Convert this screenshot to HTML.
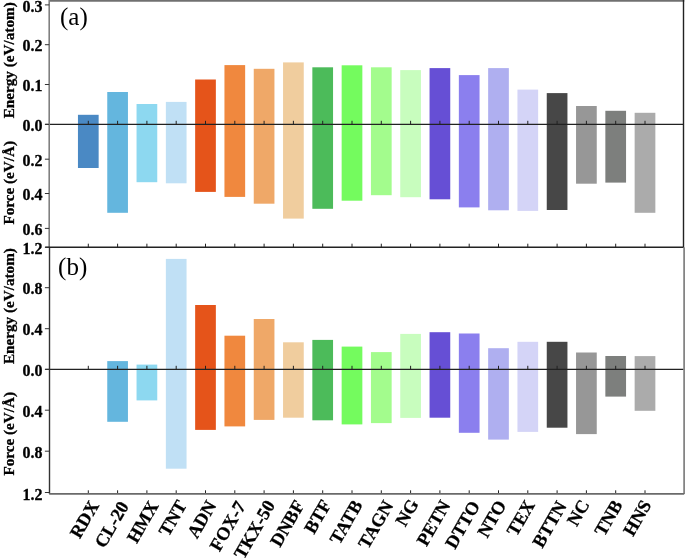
<!DOCTYPE html>
<html><head><meta charset="utf-8"><title>Energy and force chart</title>
<style>
html,body{margin:0;padding:0;background:#fff;}
body{width:685px;height:558px;overflow:hidden;}
svg{display:block;filter:blur(0.35px);}
.tl{font-family:"Liberation Serif",serif;font-weight:bold;font-size:16px;fill:#000;stroke:#000;stroke-width:0.3px;}
.ax{font-family:"Liberation Serif",serif;font-weight:bold;font-size:15.2px;fill:#000;stroke:#000;stroke-width:0.3px;}
.pl{font-family:"Liberation Serif",serif;font-size:25px;fill:#000;}
.xl{font-family:"Liberation Serif",serif;font-weight:bold;font-size:18.3px;fill:#000;stroke:#000;stroke-width:0.3px;}
</style></head>
<body>
<svg width="685" height="558" viewBox="0 0 685 558">
<rect x="0" y="0" width="685" height="558" fill="#ffffff"/>
<rect x="77.95" y="114.80" width="20.7" height="53.20" fill="#4a89c4"/>
<rect x="107.25" y="92.00" width="20.7" height="120.80" fill="#64b6de"/>
<rect x="107.25" y="361.10" width="20.7" height="60.70" fill="#64b6de"/>
<rect x="136.55" y="104.00" width="20.7" height="78.20" fill="#8dd8f0"/>
<rect x="136.55" y="364.60" width="20.7" height="35.80" fill="#8dd8f0"/>
<rect x="165.85" y="101.90" width="20.7" height="81.40" fill="#c0e0f5"/>
<rect x="165.85" y="258.90" width="20.7" height="209.80" fill="#c0e0f5"/>
<rect x="195.15" y="79.50" width="20.7" height="112.40" fill="#e5541a"/>
<rect x="195.15" y="305.00" width="20.7" height="124.90" fill="#e5541a"/>
<rect x="224.45" y="65.10" width="20.7" height="131.80" fill="#f0883e"/>
<rect x="224.45" y="335.70" width="20.7" height="90.70" fill="#f0883e"/>
<rect x="253.75" y="68.80" width="20.7" height="134.90" fill="#efa868"/>
<rect x="253.75" y="319.00" width="20.7" height="100.90" fill="#efa868"/>
<rect x="283.05" y="62.40" width="20.7" height="156.20" fill="#f0cd9e"/>
<rect x="283.05" y="342.30" width="20.7" height="75.40" fill="#f0cd9e"/>
<rect x="312.35" y="67.30" width="20.7" height="141.50" fill="#4cbb5a"/>
<rect x="312.35" y="339.90" width="20.7" height="80.40" fill="#4cbb5a"/>
<rect x="341.65" y="65.30" width="20.7" height="135.40" fill="#74fb5e"/>
<rect x="341.65" y="346.60" width="20.7" height="77.80" fill="#74fb5e"/>
<rect x="370.95" y="67.30" width="20.7" height="127.90" fill="#a3fc8d"/>
<rect x="370.95" y="352.10" width="20.7" height="71.00" fill="#a3fc8d"/>
<rect x="400.25" y="70.10" width="20.7" height="127.10" fill="#c8fdbe"/>
<rect x="400.25" y="333.90" width="20.7" height="84.00" fill="#c8fdbe"/>
<rect x="429.55" y="68.10" width="20.7" height="131.20" fill="#664fd5"/>
<rect x="429.55" y="332.20" width="20.7" height="85.50" fill="#664fd5"/>
<rect x="458.85" y="75.10" width="20.7" height="132.30" fill="#8b7fee"/>
<rect x="458.85" y="333.50" width="20.7" height="99.30" fill="#8b7fee"/>
<rect x="488.15" y="68.10" width="20.7" height="142.20" fill="#afaff0"/>
<rect x="488.15" y="348.20" width="20.7" height="91.40" fill="#afaff0"/>
<rect x="517.45" y="89.60" width="20.7" height="121.30" fill="#d4d4f7"/>
<rect x="517.45" y="341.80" width="20.7" height="90.10" fill="#d4d4f7"/>
<rect x="546.75" y="93.10" width="20.7" height="116.90" fill="#474747"/>
<rect x="546.75" y="341.80" width="20.7" height="85.90" fill="#474747"/>
<rect x="576.05" y="106.00" width="20.7" height="77.70" fill="#979797"/>
<rect x="576.05" y="352.50" width="20.7" height="81.60" fill="#979797"/>
<rect x="605.35" y="110.80" width="20.7" height="71.80" fill="#7d7f7d"/>
<rect x="605.35" y="356.00" width="20.7" height="40.60" fill="#7d7f7d"/>
<rect x="634.65" y="112.80" width="20.7" height="100.00" fill="#ababab"/>
<rect x="634.65" y="356.10" width="20.7" height="54.70" fill="#ababab"/>
<line x1="45.2" y1="124.4" x2="683.5" y2="124.4" stroke="#222" stroke-width="1.4"/>
<line x1="45.2" y1="369.4" x2="683.5" y2="369.4" stroke="#222" stroke-width="1.4"/>
<line x1="88.30" y1="124.4" x2="88.30" y2="120.80" stroke="#222" stroke-width="1"/>
<line x1="88.30" y1="369.4" x2="88.30" y2="365.80" stroke="#222" stroke-width="1"/>
<line x1="88.30" y1="247.3" x2="88.30" y2="243.70" stroke="#222" stroke-width="1"/>
<line x1="88.30" y1="493.9" x2="88.30" y2="490.30" stroke="#222" stroke-width="1"/>
<line x1="117.60" y1="124.4" x2="117.60" y2="120.80" stroke="#222" stroke-width="1"/>
<line x1="117.60" y1="369.4" x2="117.60" y2="365.80" stroke="#222" stroke-width="1"/>
<line x1="117.60" y1="247.3" x2="117.60" y2="243.70" stroke="#222" stroke-width="1"/>
<line x1="117.60" y1="493.9" x2="117.60" y2="490.30" stroke="#222" stroke-width="1"/>
<line x1="146.90" y1="124.4" x2="146.90" y2="120.80" stroke="#222" stroke-width="1"/>
<line x1="146.90" y1="369.4" x2="146.90" y2="365.80" stroke="#222" stroke-width="1"/>
<line x1="146.90" y1="247.3" x2="146.90" y2="243.70" stroke="#222" stroke-width="1"/>
<line x1="146.90" y1="493.9" x2="146.90" y2="490.30" stroke="#222" stroke-width="1"/>
<line x1="176.20" y1="124.4" x2="176.20" y2="120.80" stroke="#222" stroke-width="1"/>
<line x1="176.20" y1="369.4" x2="176.20" y2="365.80" stroke="#222" stroke-width="1"/>
<line x1="176.20" y1="247.3" x2="176.20" y2="243.70" stroke="#222" stroke-width="1"/>
<line x1="176.20" y1="493.9" x2="176.20" y2="490.30" stroke="#222" stroke-width="1"/>
<line x1="205.50" y1="124.4" x2="205.50" y2="120.80" stroke="#222" stroke-width="1"/>
<line x1="205.50" y1="369.4" x2="205.50" y2="365.80" stroke="#222" stroke-width="1"/>
<line x1="205.50" y1="247.3" x2="205.50" y2="243.70" stroke="#222" stroke-width="1"/>
<line x1="205.50" y1="493.9" x2="205.50" y2="490.30" stroke="#222" stroke-width="1"/>
<line x1="234.80" y1="124.4" x2="234.80" y2="120.80" stroke="#222" stroke-width="1"/>
<line x1="234.80" y1="369.4" x2="234.80" y2="365.80" stroke="#222" stroke-width="1"/>
<line x1="234.80" y1="247.3" x2="234.80" y2="243.70" stroke="#222" stroke-width="1"/>
<line x1="234.80" y1="493.9" x2="234.80" y2="490.30" stroke="#222" stroke-width="1"/>
<line x1="264.10" y1="124.4" x2="264.10" y2="120.80" stroke="#222" stroke-width="1"/>
<line x1="264.10" y1="369.4" x2="264.10" y2="365.80" stroke="#222" stroke-width="1"/>
<line x1="264.10" y1="247.3" x2="264.10" y2="243.70" stroke="#222" stroke-width="1"/>
<line x1="264.10" y1="493.9" x2="264.10" y2="490.30" stroke="#222" stroke-width="1"/>
<line x1="293.40" y1="124.4" x2="293.40" y2="120.80" stroke="#222" stroke-width="1"/>
<line x1="293.40" y1="369.4" x2="293.40" y2="365.80" stroke="#222" stroke-width="1"/>
<line x1="293.40" y1="247.3" x2="293.40" y2="243.70" stroke="#222" stroke-width="1"/>
<line x1="293.40" y1="493.9" x2="293.40" y2="490.30" stroke="#222" stroke-width="1"/>
<line x1="322.70" y1="124.4" x2="322.70" y2="120.80" stroke="#222" stroke-width="1"/>
<line x1="322.70" y1="369.4" x2="322.70" y2="365.80" stroke="#222" stroke-width="1"/>
<line x1="322.70" y1="247.3" x2="322.70" y2="243.70" stroke="#222" stroke-width="1"/>
<line x1="322.70" y1="493.9" x2="322.70" y2="490.30" stroke="#222" stroke-width="1"/>
<line x1="352.00" y1="124.4" x2="352.00" y2="120.80" stroke="#222" stroke-width="1"/>
<line x1="352.00" y1="369.4" x2="352.00" y2="365.80" stroke="#222" stroke-width="1"/>
<line x1="352.00" y1="247.3" x2="352.00" y2="243.70" stroke="#222" stroke-width="1"/>
<line x1="352.00" y1="493.9" x2="352.00" y2="490.30" stroke="#222" stroke-width="1"/>
<line x1="381.30" y1="124.4" x2="381.30" y2="120.80" stroke="#222" stroke-width="1"/>
<line x1="381.30" y1="369.4" x2="381.30" y2="365.80" stroke="#222" stroke-width="1"/>
<line x1="381.30" y1="247.3" x2="381.30" y2="243.70" stroke="#222" stroke-width="1"/>
<line x1="381.30" y1="493.9" x2="381.30" y2="490.30" stroke="#222" stroke-width="1"/>
<line x1="410.60" y1="124.4" x2="410.60" y2="120.80" stroke="#222" stroke-width="1"/>
<line x1="410.60" y1="369.4" x2="410.60" y2="365.80" stroke="#222" stroke-width="1"/>
<line x1="410.60" y1="247.3" x2="410.60" y2="243.70" stroke="#222" stroke-width="1"/>
<line x1="410.60" y1="493.9" x2="410.60" y2="490.30" stroke="#222" stroke-width="1"/>
<line x1="439.90" y1="124.4" x2="439.90" y2="120.80" stroke="#222" stroke-width="1"/>
<line x1="439.90" y1="369.4" x2="439.90" y2="365.80" stroke="#222" stroke-width="1"/>
<line x1="439.90" y1="247.3" x2="439.90" y2="243.70" stroke="#222" stroke-width="1"/>
<line x1="439.90" y1="493.9" x2="439.90" y2="490.30" stroke="#222" stroke-width="1"/>
<line x1="469.20" y1="124.4" x2="469.20" y2="120.80" stroke="#222" stroke-width="1"/>
<line x1="469.20" y1="369.4" x2="469.20" y2="365.80" stroke="#222" stroke-width="1"/>
<line x1="469.20" y1="247.3" x2="469.20" y2="243.70" stroke="#222" stroke-width="1"/>
<line x1="469.20" y1="493.9" x2="469.20" y2="490.30" stroke="#222" stroke-width="1"/>
<line x1="498.50" y1="124.4" x2="498.50" y2="120.80" stroke="#222" stroke-width="1"/>
<line x1="498.50" y1="369.4" x2="498.50" y2="365.80" stroke="#222" stroke-width="1"/>
<line x1="498.50" y1="247.3" x2="498.50" y2="243.70" stroke="#222" stroke-width="1"/>
<line x1="498.50" y1="493.9" x2="498.50" y2="490.30" stroke="#222" stroke-width="1"/>
<line x1="527.80" y1="124.4" x2="527.80" y2="120.80" stroke="#222" stroke-width="1"/>
<line x1="527.80" y1="369.4" x2="527.80" y2="365.80" stroke="#222" stroke-width="1"/>
<line x1="527.80" y1="247.3" x2="527.80" y2="243.70" stroke="#222" stroke-width="1"/>
<line x1="527.80" y1="493.9" x2="527.80" y2="490.30" stroke="#222" stroke-width="1"/>
<line x1="557.10" y1="124.4" x2="557.10" y2="120.80" stroke="#222" stroke-width="1"/>
<line x1="557.10" y1="369.4" x2="557.10" y2="365.80" stroke="#222" stroke-width="1"/>
<line x1="557.10" y1="247.3" x2="557.10" y2="243.70" stroke="#222" stroke-width="1"/>
<line x1="557.10" y1="493.9" x2="557.10" y2="490.30" stroke="#222" stroke-width="1"/>
<line x1="586.40" y1="124.4" x2="586.40" y2="120.80" stroke="#222" stroke-width="1"/>
<line x1="586.40" y1="369.4" x2="586.40" y2="365.80" stroke="#222" stroke-width="1"/>
<line x1="586.40" y1="247.3" x2="586.40" y2="243.70" stroke="#222" stroke-width="1"/>
<line x1="586.40" y1="493.9" x2="586.40" y2="490.30" stroke="#222" stroke-width="1"/>
<line x1="615.70" y1="124.4" x2="615.70" y2="120.80" stroke="#222" stroke-width="1"/>
<line x1="615.70" y1="369.4" x2="615.70" y2="365.80" stroke="#222" stroke-width="1"/>
<line x1="615.70" y1="247.3" x2="615.70" y2="243.70" stroke="#222" stroke-width="1"/>
<line x1="615.70" y1="493.9" x2="615.70" y2="490.30" stroke="#222" stroke-width="1"/>
<line x1="645.00" y1="124.4" x2="645.00" y2="120.80" stroke="#222" stroke-width="1"/>
<line x1="645.00" y1="369.4" x2="645.00" y2="365.80" stroke="#222" stroke-width="1"/>
<line x1="645.00" y1="247.3" x2="645.00" y2="243.70" stroke="#222" stroke-width="1"/>
<line x1="645.00" y1="493.9" x2="645.00" y2="490.30" stroke="#222" stroke-width="1"/>
<line x1="49.2" y1="0.9" x2="684.3" y2="0.9" stroke="#707070" stroke-width="1.8"/>
<line x1="49.2" y1="0" x2="49.2" y2="247.3" stroke="#808080" stroke-width="1.6"/>
<line x1="49.5" y1="247.3" x2="49.5" y2="493.9" stroke="#333" stroke-width="1.4"/>
<line x1="683.5" y1="0" x2="683.5" y2="247.3" stroke="#222" stroke-width="1.4"/>
<line x1="684.1" y1="247.3" x2="684.1" y2="493.9" stroke="#777" stroke-width="1.6"/>
<line x1="45.2" y1="247.3" x2="683.5" y2="247.3" stroke="#222" stroke-width="1.5"/>
<line x1="49.2" y1="493.9" x2="684.2" y2="493.9" stroke="#6a6a6a" stroke-width="1.6"/>
<line x1="44.900000000000006" y1="4.9" x2="49.2" y2="4.9" stroke="#333" stroke-width="1"/>
<text transform="translate(42.6,12.10) scale(1,1.1)" text-anchor="end" class="tl">0.3</text>
<line x1="44.900000000000006" y1="44.7" x2="49.2" y2="44.7" stroke="#333" stroke-width="1"/>
<text transform="translate(42.6,51.10) scale(1,1.1)" text-anchor="end" class="tl">0.2</text>
<line x1="44.900000000000006" y1="84.5" x2="49.2" y2="84.5" stroke="#333" stroke-width="1"/>
<text transform="translate(42.6,90.90) scale(1,1.1)" text-anchor="end" class="tl">0.1</text>
<line x1="44.900000000000006" y1="124.4" x2="49.2" y2="124.4" stroke="#333" stroke-width="1"/>
<text transform="translate(42.6,130.80) scale(1,1.1)" text-anchor="end" class="tl">0.0</text>
<line x1="44.900000000000006" y1="159.2" x2="49.2" y2="159.2" stroke="#333" stroke-width="1"/>
<text transform="translate(42.6,165.60) scale(1,1.1)" text-anchor="end" class="tl">0.2</text>
<line x1="44.900000000000006" y1="193.5" x2="49.2" y2="193.5" stroke="#333" stroke-width="1"/>
<text transform="translate(42.6,199.90) scale(1,1.1)" text-anchor="end" class="tl">0.4</text>
<line x1="44.900000000000006" y1="228.4" x2="49.2" y2="228.4" stroke="#333" stroke-width="1"/>
<text transform="translate(42.6,234.80) scale(1,1.1)" text-anchor="end" class="tl">0.6</text>
<line x1="44.900000000000006" y1="247.3" x2="49.2" y2="247.3" stroke="#333" stroke-width="1"/>
<text transform="translate(42.6,253.70) scale(1,1.1)" text-anchor="end" class="tl">1.2</text>
<line x1="44.900000000000006" y1="287.7" x2="49.2" y2="287.7" stroke="#333" stroke-width="1"/>
<text transform="translate(42.6,294.10) scale(1,1.1)" text-anchor="end" class="tl">0.8</text>
<line x1="44.900000000000006" y1="328.7" x2="49.2" y2="328.7" stroke="#333" stroke-width="1"/>
<text transform="translate(42.6,335.10) scale(1,1.1)" text-anchor="end" class="tl">0.4</text>
<line x1="44.900000000000006" y1="369.4" x2="49.2" y2="369.4" stroke="#333" stroke-width="1"/>
<text transform="translate(42.6,375.80) scale(1,1.1)" text-anchor="end" class="tl">0.0</text>
<line x1="44.900000000000006" y1="410.2" x2="49.2" y2="410.2" stroke="#333" stroke-width="1"/>
<text transform="translate(42.6,416.60) scale(1,1.1)" text-anchor="end" class="tl">0.4</text>
<line x1="44.900000000000006" y1="451.2" x2="49.2" y2="451.2" stroke="#333" stroke-width="1"/>
<text transform="translate(42.6,457.60) scale(1,1.1)" text-anchor="end" class="tl">0.8</text>
<line x1="44.900000000000006" y1="492.5" x2="49.2" y2="492.5" stroke="#333" stroke-width="1"/>
<text transform="translate(42.6,499.90) scale(1,1.1)" text-anchor="end" class="tl">1.2</text>
<text transform="translate(14.2,118.3) rotate(-90)" class="ax">Energy (eV/atom)</text>
<text transform="translate(14.2,224.6) rotate(-90)" class="ax">Force (eV/&#197;)</text>
<text transform="translate(14.2,364.1) rotate(-90)" class="ax">Energy (eV/atom)</text>
<text transform="translate(14.2,475.6) rotate(-90)" class="ax">Force (eV/&#197;)</text>
<text x="60" y="25" class="pl">(a)</text>
<text x="58.1" y="274.7" class="pl">(b)</text>
<text transform="translate(99.50,505.30) rotate(-60)" text-anchor="end" class="xl">RDX</text>
<text transform="translate(129.28,506.00) rotate(-60)" text-anchor="end" class="xl">CL-20</text>
<text transform="translate(159.06,505.50) rotate(-60)" text-anchor="end" class="xl">HMX</text>
<text transform="translate(187.34,504.90) rotate(-60)" text-anchor="end" class="xl">TNT</text>
<text transform="translate(216.82,505.30) rotate(-60)" text-anchor="end" class="xl">ADN</text>
<text transform="translate(246.40,505.80) rotate(-60)" text-anchor="end" class="xl">FOX-7</text>
<text transform="translate(275.68,504.90) rotate(-60)" text-anchor="end" class="xl">TKX-50</text>
<text transform="translate(304.96,504.90) rotate(-60)" text-anchor="end" class="xl">DNBF</text>
<text transform="translate(331.74,504.30) rotate(-60)" text-anchor="end" class="xl">BTF</text>
<text transform="translate(363.02,504.80) rotate(-60)" text-anchor="end" class="xl">TATB</text>
<text transform="translate(393.80,505.40) rotate(-60)" text-anchor="end" class="xl">TAGN</text>
<text transform="translate(419.08,503.80) rotate(-60)" text-anchor="end" class="xl">NG</text>
<text transform="translate(450.86,505.00) rotate(-60)" text-anchor="end" class="xl">PETN</text>
<text transform="translate(480.64,505.40) rotate(-60)" text-anchor="end" class="xl">DTTO</text>
<text transform="translate(506.92,504.80) rotate(-60)" text-anchor="end" class="xl">NTO</text>
<text transform="translate(535.40,504.80) rotate(-60)" text-anchor="end" class="xl">TEX</text>
<text transform="translate(567.18,505.80) rotate(-60)" text-anchor="end" class="xl">BTTN</text>
<text transform="translate(590.06,504.30) rotate(-60)" text-anchor="end" class="xl">NC</text>
<text transform="translate(623.04,504.80) rotate(-60)" text-anchor="end" class="xl">TNB</text>
<text transform="translate(651.82,504.60) rotate(-60)" text-anchor="end" class="xl">HNS</text>
</svg>
</body></html>
